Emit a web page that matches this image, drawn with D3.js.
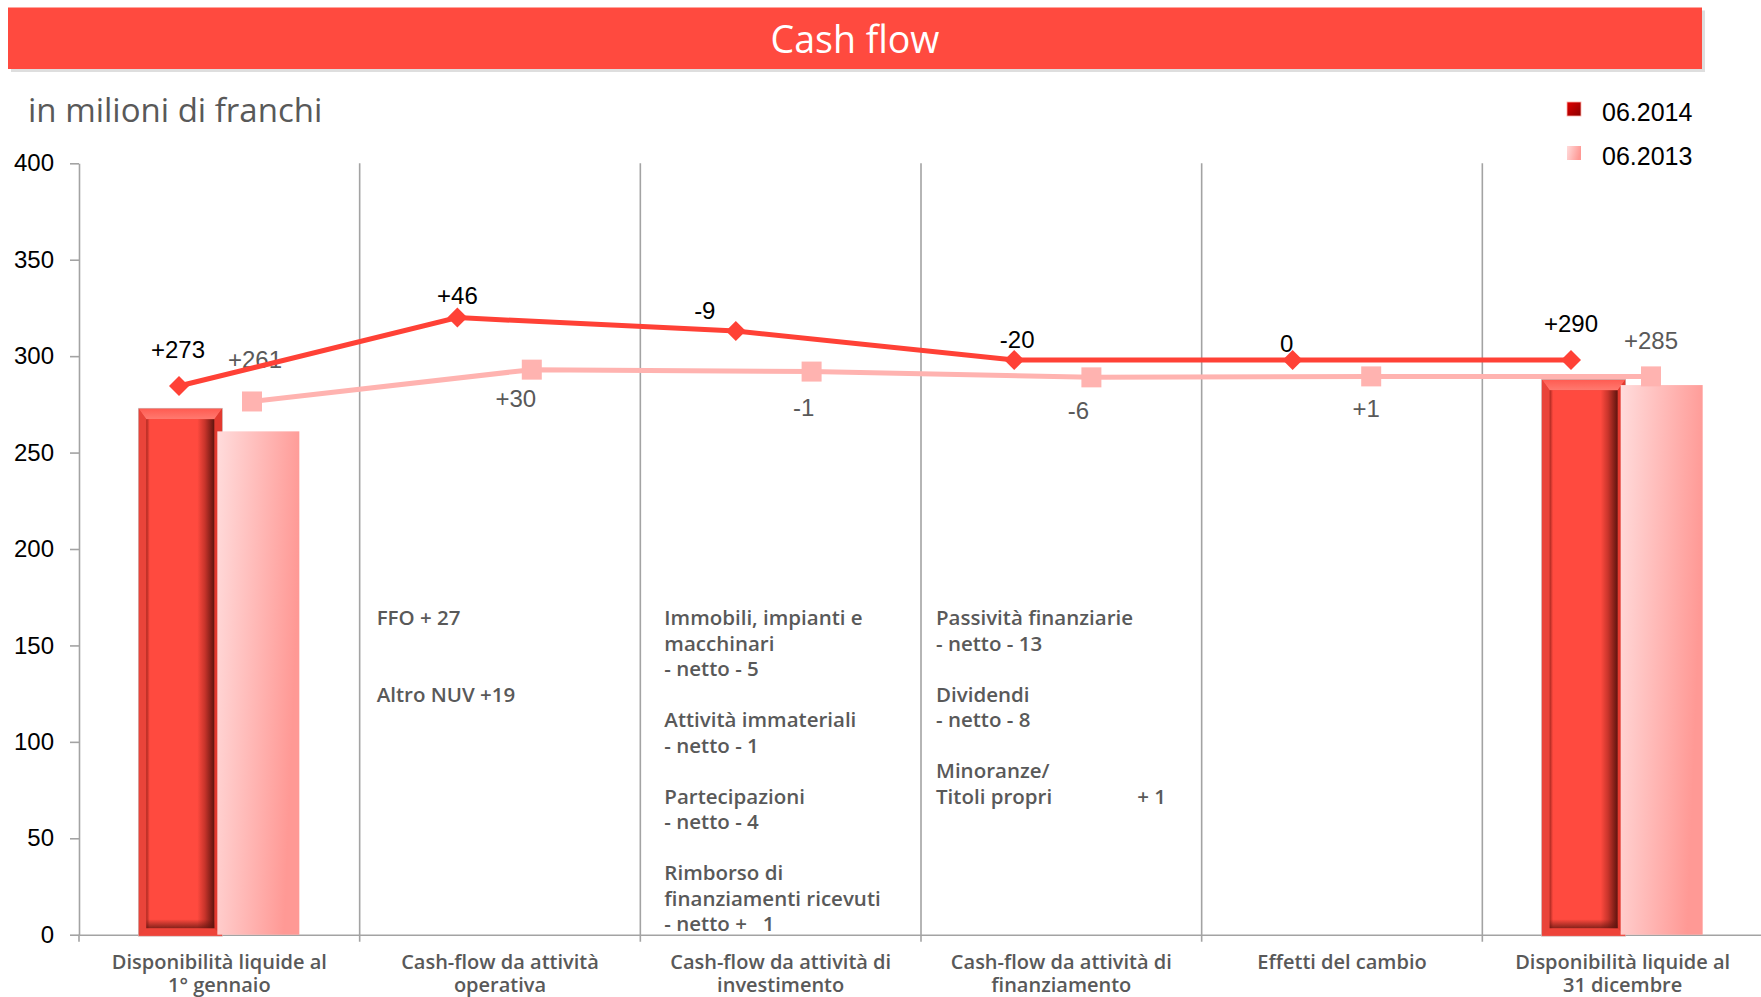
<!DOCTYPE html>
<html>
<head>
<meta charset="utf-8">
<script src="https://cdn.jsdelivr.net/npm/d3@7"></script>
<style>
  body { margin: 0; background: #fff; }
  svg { display: block; }
</style>
</head>
<body>
<svg id="chart"></svg>
<script>
// categories (x axis), one label per line
const categories = [
    "Disponibilità liquide al\n1° gennaio",
    "Cash-flow da attività\noperativa",
    "Cash-flow da attività di\ninvestimento",
    "Cash-flow da attività di\nfinanziamento",
    "Effetti del cambio",
    "Disponibilità liquide al\n31 dicembre"
];
const seriesNames = ["06.2014", "06.2013"];

// bars only on first and last category
const bars2014 = [273, null, null, null, null, 288];
const bars2013 = [261, null, null, null, null, 285];

// the two running lines
const line2014 = [284.5, 320, 313, 298, 298, 298];
const line2013 = [276.5, 293, 292, 289, 289.5, 289.5];

const labels2014 = ["+273", "+46", "-9", "-20", "0", "+290"];
const labels2013 = ["+261", "+30", "-1", "-6", "+1", "+285"];

const yTicks = [0, 50, 100, 150, 200, 250, 300, 350, 400];

// text notes written inside the middle columns
const notes = [
    [],
    ["FFO + 27", "", "", "Altro NUV +19"],
    ["Immobili, impianti e", "macchinari", "- netto - 5", "", "Attività immateriali", "- netto - 1", "",
     "Partecipazioni", "- netto - 4", "", "Rimborso di", "finanziamenti ricevuti", "- netto +   1"],
    ["Passività finanziarie", "- netto - 13", "", "Dividendi", "- netto - 8", "", "Minoranze/",
     "Titoli propri                + 1"],
    [],
    []
];

// ---- layout ----
const width = 1761, height = 997;
const plotLeft = 79, plotRight = 1763, plotTop = 163.3, plotBottom = 934.7;

// label placement relative to each marker (dx, dy to baseline)
const off2014 = [[-1, -28], [0, -14], [-31, -12], [3, -12], [-6, -8], [0, -28]];
const off2013 = [[3, -33], [-16, 37], [-8, 44], [-13, 42], [-5, 41], [0, -27]];
const noteDx = [0, 17, 24, 15, 0, 0];

const numFont = "'Liberation Sans', Arial, sans-serif";
const txtFont = "'Open Sans', 'Noto Sans', sans-serif";
const gray = "#595959";
const red = "#ff4136";
const pink = "#ffb3b0";
const axisGray = "#a3a3a3";

const svg = d3.select("#chart")
    .attr("width", width)
    .attr("height", height);

const defs = svg.append("defs");

// gradients
const lightGrad = defs.append("linearGradient")
    .attr("id", "lightGrad")
    .attr("x1", 0).attr("y1", 0).attr("x2", 1).attr("y2", 0.25);
lightGrad.append("stop").attr("offset", "0%").attr("stop-color", "#ffdcdc");
lightGrad.append("stop").attr("offset", "100%").attr("stop-color", "#ff9995");

const faceGrad = defs.append("linearGradient")
    .attr("id", "faceGrad")
    .attr("x1", 0).attr("y1", 0).attr("x2", 1).attr("y2", 0);
[["0%", "#a82820"], ["5%", "#ff4a3f"], ["75%", "#ff4a3f"], ["86%", "#c8342b"], ["100%", "#5e140e"]]
    .forEach(s => faceGrad.append("stop").attr("offset", s[0]).attr("stop-color", s[1]));

const topGrad = defs.append("linearGradient")
    .attr("id", "topGrad")
    .attr("x1", 0).attr("y1", 0).attr("x2", 0).attr("y2", 1);
topGrad.append("stop").attr("offset", "0%").attr("stop-color", "#ff5a50");
topGrad.append("stop").attr("offset", "100%").attr("stop-color", "#ff7a70");

const bottomShade = defs.append("linearGradient")
    .attr("id", "bottomShade")
    .attr("x1", 0).attr("y1", 0).attr("x2", 0).attr("y2", 1);
bottomShade.append("stop").attr("offset", "0%").attr("stop-color", "#5e140e").attr("stop-opacity", 0);
bottomShade.append("stop").attr("offset", "100%").attr("stop-color", "#5e140e").attr("stop-opacity", 0.75);

const legGrad = defs.append("linearGradient")
    .attr("id", "legGrad")
    .attr("x1", 0).attr("y1", 0).attr("x2", 1).attr("y2", 1);
legGrad.append("stop").attr("offset", "0%").attr("stop-color", "#e00000");
legGrad.append("stop").attr("offset", "100%").attr("stop-color", "#8a0000");

// ---- title bar ----
svg.append("rect")
    .attr("x", 11).attr("y", 10.5)
    .attr("width", 1694).attr("height", 61.5)
    .attr("fill", "#dedede");
svg.append("rect")
    .attr("x", 8).attr("y", 7.5)
    .attr("width", 1694).attr("height", 61.5)
    .attr("fill", "#ff4a3f");
svg.append("text")
    .attr("x", 855).attr("y", 52.5)
    .attr("text-anchor", "middle")
    .attr("font-family", txtFont)
    .attr("font-size", 37.5)
    .attr("fill", "#fff")
    .text("Cash flow");

svg.append("text")
    .attr("x", 28).attr("y", 122)
    .attr("font-family", txtFont)
    .attr("font-size", 33)
    .attr("fill", gray)
    .text("in milioni di franchi");

// ---- scales ----
const x = d3.scaleBand()
    .domain(categories)
    .range([plotLeft, plotRight])
    .padding(0);

const xSub = d3.scaleBand()
    .domain(seriesNames)
    .range([-81, 81]);

const y = d3.scaleLinear()
    .domain([0, 400])
    .range([plotBottom, plotTop]);

// the line markers sit on their own (slightly narrower) category axis
const xDia = d3.scalePoint().domain(categories).range([179, 1571]);
const xSq = d3.scalePoint().domain(categories).range([252, 1651]);

// ---- axes ----
const yAxis = svg.append("g")
    .attr("transform", `translate(${plotLeft},0)`)
    .call(d3.axisLeft(y).tickValues(yTicks).tickSize(9).tickSizeOuter(0).tickPadding(16));
yAxis.selectAll("path, line").attr("stroke", axisGray).attr("stroke-width", 1.6);
yAxis.selectAll("text")
    .attr("font-family", numFont)
    .attr("font-size", 24)
    .attr("fill", "#000");

const xAxis = svg.append("g")
    .attr("transform", `translate(0,${plotBottom})`)
    .call(d3.axisBottom(x).tickSize(0).tickSizeOuter(0).tickFormat(""));
xAxis.select("path").attr("stroke", axisGray).attr("stroke-width", 1.6);

// column separators + boundary ticks
svg.append("g")
    .selectAll("line")
    .data(categories)
    .enter()
    .append("line")
    .attr("x1", d => x(d))
    .attr("x2", d => x(d))
    .attr("y1", (d, i) => i === 0 ? plotBottom : plotTop)
    .attr("y2", plotBottom + 7)
    .attr("stroke", axisGray)
    .attr("stroke-width", 1.6);

// category labels
const catLabels = svg.append("g")
    .selectAll("text")
    .data(categories)
    .enter()
    .append("text")
    .attr("x", d => x(d) + x.bandwidth() / 2)
    .attr("y", 969)
    .attr("text-anchor", "middle")
    .attr("font-family", txtFont)
    .attr("font-size", 20)
    .attr("font-weight", 600)
    .attr("fill", gray);
catLabels.selectAll("tspan")
    .data(d => d.split("\n").map(t => ({ t, c: d })))
    .enter()
    .append("tspan")
    .attr("x", d => x(d.c) + x.bandwidth() / 2)
    .attr("dy", (d, i) => i === 0 ? 0 : 23)
    .text(d => d.t);

// notes inside columns
categories.forEach((c, ci) => {
    if (!notes[ci].length) return;
    svg.append("text")
        .attr("font-family", txtFont)
        .attr("font-size", 20.5)
        .attr("font-weight", 600)
        .attr("fill", gray)
        .attr("xml:space", "preserve")
        .style("white-space", "pre")
        .selectAll("tspan")
        .data(notes[ci])
        .enter()
        .append("tspan")
        .attr("x", x(c) + noteDx[ci])
        .attr("y", (d, i) => 625 + i * 25.5)
        .text(d => d);
});

// ---- bars ----
function bevelBar(g, bx, by, bw, bh) {
    const b = 8, bt = 11, bb = 8;
    g.append("rect").attr("x", bx).attr("y", by).attr("width", bw).attr("height", bh).attr("fill", "#ee4339");
    g.append("path")
        .attr("d", `M${bx},${by}L${bx + bw},${by}L${bx + bw - b},${by + bt}L${bx + b},${by + bt}Z`)
        .attr("fill", "url(#topGrad)");
    g.append("path")
        .attr("d", `M${bx},${by}L${bx + b},${by + bt}L${bx + b},${by + bh - bb}L${bx},${by + bh}Z`)
        .attr("fill", "#e9443a");
    g.append("path")
        .attr("d", `M${bx + bw},${by}L${bx + bw - b},${by + bt}L${bx + bw - b},${by + bh - bb}L${bx + bw},${by + bh}Z`)
        .attr("fill", "#e2392f");
    g.append("rect")
        .attr("x", bx + b).attr("y", by + bt)
        .attr("width", bw - 2 * b).attr("height", bh - bt - bb)
        .attr("fill", "url(#faceGrad)");
    g.append("rect")
        .attr("x", bx + b).attr("y", by + bh - bb - 9)
        .attr("width", bw - 2 * b).attr("height", 9)
        .attr("fill", "url(#bottomShade)");
    g.append("rect")
        .attr("x", bx).attr("y", by).attr("width", bw).attr("height", bh)
        .attr("fill", "none").attr("stroke", "#c9c9c9").attr("stroke-width", 0.6);
}

const barG = svg.append("g");
categories.forEach((c, i) => {
    const cx = x(c) + x.bandwidth() / 2;
    if (bars2014[i] != null) {
        const bx = cx + xSub("06.2014");
        bevelBar(barG, bx, y(bars2014[i]), xSub.bandwidth() + 3, plotBottom + 1.5 - y(bars2014[i]));
    }
    if (bars2013[i] != null) {
        barG.append("rect")
            .attr("x", cx + xSub("06.2013") - 2)
            .attr("y", y(bars2013[i]))
            .attr("width", xSub.bandwidth() + 1)
            .attr("height", plotBottom - y(bars2013[i]))
            .attr("fill", "url(#lightGrad)");
    }
});

// ---- 2013 line ----
svg.append("g")
    .selectAll("text")
    .data(labels2013)
    .enter()
    .append("text")
    .attr("x", (d, i) => xSq(categories[i]) + off2013[i][0])
    .attr("y", (d, i) => y(line2013[i]) + off2013[i][1])
    .attr("text-anchor", "middle")
    .attr("font-family", numFont)
    .attr("font-size", 24)
    .attr("fill", gray)
    .text(d => d);

const lineGen2013 = d3.line()
    .x((d, i) => xSq(categories[i]))
    .y(d => y(d));
svg.append("path")
    .datum(line2013)
    .attr("d", lineGen2013)
    .attr("fill", "none")
    .attr("stroke", pink)
    .attr("stroke-width", 5);
svg.append("g")
    .selectAll("path")
    .data(line2013)
    .enter()
    .append("path")
    .attr("d", d3.symbol(d3.symbolSquare, 400))
    .attr("transform", (d, i) => `translate(${xSq(categories[i])},${y(d)})`)
    .attr("fill", pink);

// ---- 2014 line ----
const lineGen2014 = d3.line()
    .x((d, i) => xDia(categories[i]))
    .y(d => y(d));
svg.append("path")
    .datum(line2014)
    .attr("d", lineGen2014)
    .attr("fill", "none")
    .attr("stroke", red)
    .attr("stroke-width", 5);
svg.append("g")
    .selectAll("path")
    .data(line2014)
    .enter()
    .append("path")
    .attr("d", d3.symbol(d3.symbolSquare, 200))
    .attr("transform", (d, i) => `translate(${xDia(categories[i])},${y(d)}) rotate(45)`)
    .attr("fill", red);

svg.append("g")
    .selectAll("text")
    .data(labels2014)
    .enter()
    .append("text")
    .attr("x", (d, i) => xDia(categories[i]) + off2014[i][0])
    .attr("y", (d, i) => y(line2014[i]) + off2014[i][1])
    .attr("text-anchor", "middle")
    .attr("font-family", numFont)
    .attr("font-size", 24)
    .attr("fill", "#000")
    .text(d => d);

// ---- legend ----
const legend = svg.append("g");
const legY = [109, 153];
legend.selectAll("rect")
    .data(seriesNames)
    .enter()
    .append("rect")
    .attr("x", 1567)
    .attr("y", (d, i) => legY[i] - 7)
    .attr("width", 14)
    .attr("height", 14)
    .attr("fill", (d, i) => i === 0 ? "url(#legGrad)" : "url(#lightGrad)")
    .attr("stroke", (d, i) => i === 0 ? "#ffb0a8" : "none")
    .attr("stroke-width", 0.8);
legend.selectAll("text")
    .data(seriesNames)
    .enter()
    .append("text")
    .attr("x", 1602)
    .attr("y", (d, i) => legY[i] + 12)
    .attr("font-family", numFont)
    .attr("font-size", 25)
    .attr("fill", "#000")
    .text(d => d);
</script>
</body>
</html>
